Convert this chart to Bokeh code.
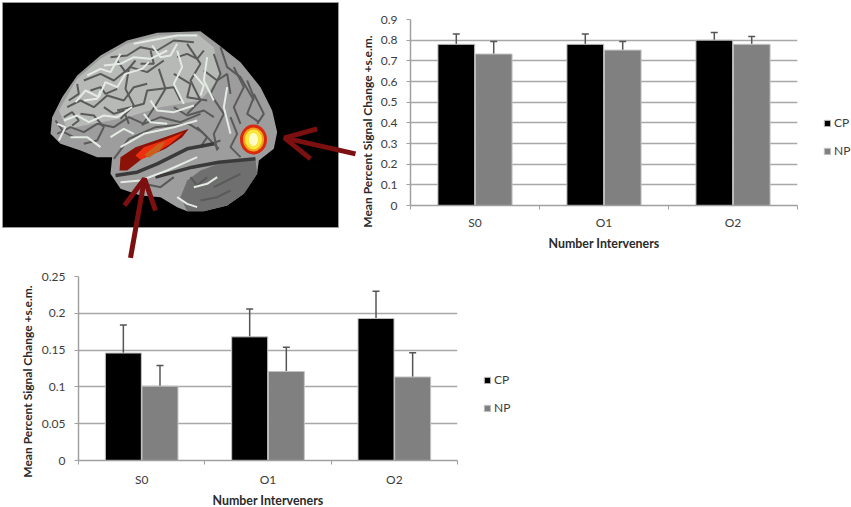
import numpy as np
from bokeh.embed import file_html
from bokeh.layouts import column, row
from bokeh.models import (ColumnDataSource, FixedTicker, Label, Legend, LegendItem,
                          NumeralTickFormatter, Range1d, Spacer, TeeHead, Whisker)
from bokeh.plotting import figure
from bokeh.resources import INLINE

categories = ["S0", "O1", "O2"]

# top chart (frontal region)
top_cp = [0.78, 0.78, 0.80]
top_np = [0.733, 0.752, 0.78]
top_cp_err = [0.05, 0.05, 0.037]
top_np_err = [0.06, 0.041, 0.038]
top_ticks = [0, 0.1, 0.2, 0.3, 0.4, 0.5, 0.6, 0.7, 0.8, 0.9]

# bottom chart (temporal region)
bot_cp = [0.146, 0.168, 0.193]
bot_np = [0.101, 0.121, 0.1135]
bot_cp_err = [0.038, 0.038, 0.037]
bot_np_err = [0.028, 0.033, 0.033]
bot_ticks = [0, 0.05, 0.1, 0.15, 0.2, 0.25]

FONT = "Lato"
TEXT = "#3c3c3c"
GRID = "#a8a8a8"

# brain picture, traced in page pixels x3 from the photo
outline = [(150, 400), (155, 350), (185, 290), (230, 225), (300, 165), (380, 120), (470, 97),
           (600, 92), (650, 130), (720, 185), (780, 260), (815, 330), (830, 395), (820, 445),
           (775, 480), (770, 520), (730, 580), (680, 615), (610, 632), (560, 632),
           (530, 620), (480, 590), (420, 585), (360, 565), (330, 520), (335, 470), (290, 470),
           (240, 450), (180, 430)]
pale_top = [(175, 330), (230, 235), (300, 175), (380, 130), (470, 105), (590, 100), (640, 140), (660, 230),
            (600, 300), (480, 320), (380, 350), (280, 370), (200, 385)]
low_lobe = [(655, 490), (765, 478), (770, 520), (730, 580), (680, 615), (610, 632), (560, 632),
            (540, 590), (560, 540), (600, 510)]
folds = [
    [(170, 400), (210, 380), (250, 395), (290, 370), (340, 380), (385, 350), (430, 370), (480, 350), (540, 365), (600, 340)],
    [(200, 320), (240, 300), (280, 320), (320, 285), (370, 300), (400, 260), (440, 250)],
    [(250, 240), (300, 220), (340, 240), (390, 200), (440, 215), (490, 180)],
    [(330, 170), (380, 165), (420, 140), (470, 150), (520, 120), (580, 125)],
    [(475, 205), (495, 265), (465, 315), (425, 375)],
    [(385, 205), (375, 265), (400, 315), (360, 355)],
    [(560, 130), (600, 190), (570, 240), (600, 300), (560, 340)],
    [(640, 160), (660, 220), (630, 280), (670, 340), (640, 400), (650, 450)],
    [(700, 200), (730, 260), (700, 320), (720, 370)],
    [(760, 280), (790, 340), (770, 370)],
    [(340, 475), (385, 415), (465, 380), (565, 370), (605, 395), (655, 445)],
    [(240, 340), (280, 345), (310, 380), (290, 420), (250, 430)],
    [(350, 330), (390, 320), (430, 310), (440, 270), (520, 260), (540, 300)],
    [(520, 220), (570, 250), (560, 290), (620, 300)],
    [(420, 190), (460, 190), (450, 150)],
    [(660, 140), (680, 200), (720, 230), (760, 300)],
    [(190, 350), (215, 335), (235, 360), (215, 375)],
    [(270, 270), (300, 260), (315, 280), (350, 265)],
    [(310, 320), (340, 340), (370, 330), (385, 370)],
    [(350, 180), (375, 215), (405, 180)],
    [(530, 170), (560, 160), (590, 175), (610, 150)],
    [(610, 210), (650, 240), (680, 220), (690, 280)],
    [(520, 320), (560, 345), (610, 330), (640, 350)],
    [(690, 350), (710, 400), (690, 440), (720, 470)],
    [(590, 380), (620, 410), (600, 440), (660, 420)],
    [(430, 550), (480, 560), (520, 530)],
    [(620, 530), (590, 555), (570, 530)],
    [(640, 560), (680, 540), (720, 520)],
    [(600, 600), (650, 590), (690, 570)],
    [(740, 240), (760, 290), (740, 340), (775, 365)],
    [(205, 300), (235, 280), (230, 250)],
    [(165, 360), (190, 395), (220, 410)],
]
deep_folds = [
    [(465, 530), (575, 500), (655, 485), (765, 475)],
    [(345, 525), (410, 515), (470, 490), (560, 445), (640, 430)],
]
ridges = [
    [(190, 360), (230, 345), (265, 365), (310, 345), (350, 350), (395, 320)],
    [(225, 305), (255, 270), (295, 290), (315, 245), (350, 260), (375, 220), (425, 205), (445, 185)],
    [(310, 195), (360, 190), (400, 170), (450, 175), (500, 150)],
    [(400, 130), (450, 120), (530, 105), (590, 105)],
    [(530, 150), (545, 200), (520, 250), (550, 310)],
    [(620, 170), (610, 240), (640, 300)],
    [(680, 260), (670, 320), (690, 400)],
    [(360, 440), (430, 400), (520, 380), (590, 360)],
    [(360, 545), (420, 540), (500, 510), (590, 470)],
    [(530, 590), (560, 610), (590, 620)],
    [(450, 300), (470, 330), (520, 335), (580, 315)],
    [(210, 410), (260, 410), (300, 440)],
    [(250, 300), (290, 295), (300, 270)],
    [(455, 135), (480, 170), (510, 165), (530, 130)],
    [(430, 340), (450, 365), (500, 370)],
    [(580, 220), (610, 255), (600, 285)],
    [(330, 410), (370, 385), (400, 400)],
    [(170, 370), (195, 380), (175, 420)],
    [(260, 225), (300, 205), (330, 215), (360, 160)],
    [(580, 560), (620, 550), (650, 530)],
]
red_outer = [(360, 470), (405, 440), (465, 420), (565, 385), (545, 410), (495, 445), (425, 475), (380, 510), (357, 510)]
red_inner = [(405, 465), (430, 440), (490, 420), (550, 395), (510, 430), (460, 460), (420, 478)]
orange_core = [(432, 462), (470, 432), (495, 422), (478, 450), (445, 472)]
right_arrow = [[(1065, 460), (852, 412)], [(950, 385), (852, 412), (930, 475)]]
low_arrow = [[(390, 772), (432, 535)], [(372, 615), (432, 535), (465, 630)]]


def scaled(points):
    return [p[0] / 3 for p in points], [p[1] / 3 for p in points]


def draw_lines(p, lines, color, width):
    lines_xy = [scaled(f) for f in lines]
    p.multi_line([f[0] for f in lines_xy], [f[1] for f in lines_xy], line_color=color, line_width=width)


def make_brain():
    p = figure(width=360, height=260, x_range=Range1d(0, 360), y_range=Range1d(260, 0),
               output_backend="svg", toolbar_location=None, min_border=0, frame_align=False)
    p.axis.visible = False
    p.grid.visible = False
    p.outline_line_color = None
    p.quad(left=2, right=338, top=2, bottom=227, fill_color="black", line_color="#9a9a9a", line_width=1)

    for shape, col in [(outline, "#9d9d9d"), (pale_top, "#b6b9b6"), (low_lobe, "#6f6f6f")]:
        xs, ys = scaled(shape)
        p.patch(xs, ys, fill_color=col, line_color=None)

    draw_lines(p, folds, "#5a5a5a", 2)
    draw_lines(p, deep_folds, "#3a3a3a", 3.5)
    draw_lines(p, ridges, "#e4eae4", 2)

    for shape, col in [(red_outer, "#8c1208"), (red_inner, "#ec300e"), (orange_core, "#c9601c")]:
        xs, ys = scaled(shape)
        p.patch(xs, ys, fill_color=col, line_color=None)

    for w, h, col in [(27, 30, "#d8280e"), (21, 24, "#f5a01a"), (17, 20, "#f6e83c"), (9, 13, "#fffbc8")]:
        p.ellipse(x=253, y=139, width=w, height=h, fill_color=col, line_color=None)

    for arrow in (right_arrow, low_arrow):
        draw_lines(p, arrow, "#7c0f10", 5)
    return p


def make_chart(cp, np_vals, cp_err, np_err, ticks, ymax, frame_w, frame_h, borders, label_xy, legend_xy,
               tick_fmt, tick_gap):
    left, right, top, bottom = borders
    x = np.arange(len(categories)) + 0.5
    p = figure(frame_width=frame_w, frame_height=frame_h, x_range=Range1d(0, len(categories)),
               y_range=Range1d(0, ymax), output_backend="svg", toolbar_location=None, frame_align=False,
               min_border_left=left, min_border_right=right, min_border_top=top, min_border_bottom=bottom)
    p.outline_line_color = None
    p.xgrid.visible = False
    p.ygrid.ticker = FixedTicker(ticks=ticks)
    p.ygrid.grid_line_color = GRID
    p.ygrid.grid_line_width = 1.5

    src = ColumnDataSource(dict(
        cp_x=x - 0.145, np_x=x + 0.145, cp=cp, np=np_vals,
        cp_hi=np.array(cp) + np.array(cp_err), np_hi=np.array(np_vals) + np.array(np_err)))
    bar_cp = p.vbar(x="cp_x", top="cp", bottom=0, width=0.285, source=src, fill_color="black", line_color="#c4c4c4")
    bar_np = p.vbar(x="np_x", top="np", bottom=0, width=0.285, source=src, fill_color="#808080", line_color="#c4c4c4")

    for base, lo, hi in [("cp_x", "cp", "cp_hi"), ("np_x", "np", "np_hi")]:
        p.add_layout(Whisker(source=src, base=base, lower=lo, upper=hi, lower_head=None,
                             upper_head=TeeHead(size=7, line_color="#555555", line_width=1.5),
                             line_color="#555555", line_width=1.5))

    p.yaxis.ticker = FixedTicker(ticks=ticks)
    p.yaxis.formatter = NumeralTickFormatter(format=tick_fmt)
    p.yaxis.major_tick_in = 0
    p.yaxis.major_tick_out = 4
    p.yaxis.minor_tick_line_color = None
    p.xaxis.ticker = FixedTicker(ticks=list(x), minor_ticks=list(range(len(categories) + 1)))
    p.xaxis.major_label_overrides = {float(v): c for v, c in zip(x, categories)}
    p.xaxis.major_tick_line_color = None
    p.xaxis.minor_tick_in = 0
    p.xaxis.minor_tick_out = 4
    p.xaxis.axis_label = "Number Interveners"
    p.xaxis.axis_label_text_font = FONT
    p.xaxis.axis_label_text_font_style = "bold"
    p.xaxis.axis_label_text_font_size = "12.4px"
    p.xaxis.axis_label_text_color = "#2a2a2a"
    p.xaxis.axis_label_standoff = 3
    for ax in (p.xaxis, p.yaxis):
        ax.axis_line_color = "#a0a0a0"
        ax.axis_line_width = 1.5
        ax.major_label_text_font = FONT
        ax.major_label_text_font_size = "12px"
        ax.major_label_text_color = TEXT
    p.xaxis.minor_tick_line_color = "#a0a0a0"
    p.yaxis.major_tick_line_color = "#a0a0a0"
    p.xaxis.major_label_standoff = tick_gap
    p.yaxis.major_label_standoff = 9

    p.add_layout(Label(x=label_xy[0], y=label_xy[1], x_units="screen", y_units="screen",
                       text="Mean Percent Signal Change +s.e.m.", angle=np.pi / 2, text_align="center",
                       text_baseline="middle", text_font=FONT, text_font_style="bold",
                       text_font_size="12px", text_color="#2a2a2a"), "left")

    legend = Legend(items=[LegendItem(label="CP", renderers=[bar_cp]), LegendItem(label="NP", renderers=[bar_np])],
                    location=legend_xy, border_line_color=None, background_fill_alpha=0,
                    glyph_width=8, glyph_height=8, spacing=13, margin=0, padding=0,
                    label_standoff=3, label_text_font=FONT, label_text_font_size="12px",
                    label_text_color=TEXT, label_height=8)
    p.add_layout(legend, "right")
    return p


brain = make_brain()
top_chart = make_chart(top_cp, top_np, top_cp_err, top_np_err, top_ticks, 0.9, 387, 186, (50, 54, 19, 55),
                       (5, 74), (26, 47), "0.[0]", 3)
bottom_chart = make_chart(bot_cp, bot_np, bot_cp_err, bot_np_err, bot_ticks, 0.25, 379, 184, (58, 73, 16, 47),
                          (4, 79), (26, 45), "0.[00]", 5)

p = column(row(brain, top_chart, spacing=0),
           row(Spacer(width=20, height=247), bottom_chart, spacing=0),
           spacing=0)

open("out.html", "w").write(file_html(p, INLINE))
